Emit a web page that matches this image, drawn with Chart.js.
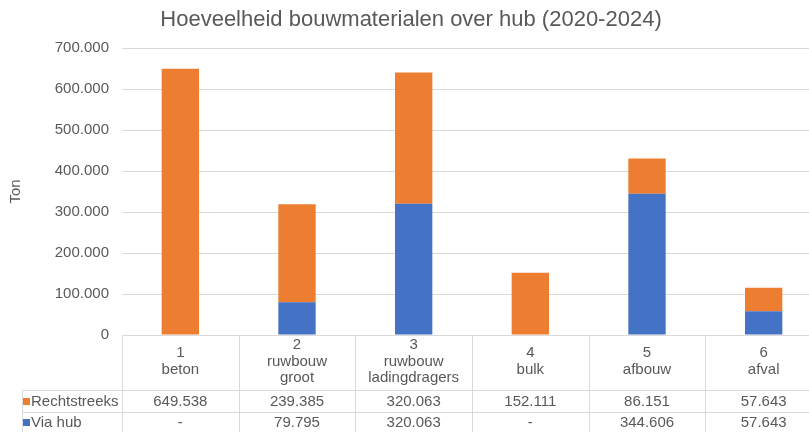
<!DOCTYPE html>
<html>
<head>
<meta charset="utf-8">
<script src="https://cdn.jsdelivr.net/npm/chart.js@4.4.1/dist/chart.umd.min.js"></script>
<style>
  html, body { margin: 0; padding: 0; background: #ffffff; overflow: hidden; width: 809px; height: 432px; }
  canvas { display: block; }
</style>
</head>
<body>
<canvas id="c" width="822" height="432"></canvas>
<script>
const titleText = "Hoeveelheid bouwmaterialen over hub (2020-2024)";
const categories = [["1", "beton"], ["2", "ruwbouw", "groot"], ["3", "ruwbouw", "ladingdragers"], ["4", "bulk"], ["5", "afbouw"], ["6", "afval"]];
const seriesNames = ["Rechtstreeks", "Via hub"];
const rechtstreeks = [649538, 239385, 320063, 152111, 86151, 57643];
const viaHub = [0, 79795, 320063, 0, 344606, 57643];
const yTicks = [0, 100000, 200000, 300000, 400000, 500000, 600000, 700000];
const yTitle = "Ton";

const ORANGE = "#ED7D31";
const BLUE = "#4472C4";
const TEXT = "#595959";
const GRID = "#d9d9d9";
const FONT = "'Liberation Sans', Arial, sans-serif";

function fmt(v) {
  if (!v) return "-";
  return String(v).replace(/\B(?=(\d{3})+(?!\d))/g, ".");
}

const tablePlugin = {
  id: "dataTable",
  afterDraw(chart) {
    const ctx = chart.ctx;
    const x = chart.scales.x;
    const area = chart.chartArea;
    const n = categories.length;
    const w = (area.right - area.left) / n;
    const top = area.bottom;
    const rowA = 390.5, rowB = 412.5, bottom = 432;
    const legLeft = 22.5;
    ctx.save();
    ctx.strokeStyle = GRID;
    ctx.lineWidth = 1;
    ctx.beginPath();
    ctx.moveTo(area.left, Math.round(top) + 0.5); ctx.lineTo(area.right, Math.round(top) + 0.5);
    ctx.moveTo(legLeft, rowA); ctx.lineTo(area.right, rowA);
    ctx.moveTo(legLeft, rowB); ctx.lineTo(area.right, rowB);
    for (let i = 0; i <= n; i++) {
      const px = Math.round(area.left + i * w) + 0.5;
      ctx.moveTo(px, top); ctx.lineTo(px, bottom);
    }
    ctx.moveTo(legLeft, rowA); ctx.lineTo(legLeft, bottom);
    ctx.stroke();

    ctx.fillStyle = TEXT;
    ctx.font = "15px " + FONT;
    ctx.textAlign = "center";
    ctx.textBaseline = "middle";
    const lh = 16.5;
    categories.forEach((lines, i) => {
      const cx = x.getPixelForValue(i);
      const cy = (top + rowA) / 2 - 1.25;
      const start = cy - (lines.length - 1) * lh / 2;
      lines.forEach((t, j) => ctx.fillText(t, cx, start + j * lh));
      ctx.fillText(fmt(rechtstreeks[i]), cx, (rowA + rowB) / 2 + 0.5);
      ctx.fillText(fmt(viaHub[i]), cx, (rowB + bottom) / 2 + 0.5);
    });
    ctx.textAlign = "left";
    const keys = [[ORANGE, seriesNames[0], (rowA + rowB) / 2], [BLUE, seriesNames[1], (rowB + bottom) / 2]];
    keys.forEach(([c, t, cy]) => {
      ctx.fillStyle = c;
      ctx.fillRect(23, Math.round(cy - 3.5), 7, 7);
      ctx.fillStyle = TEXT;
      ctx.fillText(t, 31, cy + 0.5);
    });
    ctx.restore();
  }
};

new Chart(document.getElementById("c"), {
  type: "bar",
  data: {
    labels: categories,
    datasets: [
      { label: seriesNames[1], data: viaHub, backgroundColor: BLUE, stack: "s" },
      { label: seriesNames[0], data: rechtstreeks, backgroundColor: ORANGE, stack: "s" }
    ]
  },
  options: {
    responsive: false,
    animation: false,
    layout: { padding: { left: 0, right: 0, top: 0, bottom: 0 } },
    categoryPercentage: 1,
    barPercentage: 0.32,
    plugins: {
      legend: { display: false },
      tooltip: { enabled: false },
      title: {
        display: true,
        text: titleText,
        color: TEXT,
        font: { family: FONT, size: 22, weight: "normal", lineHeight: 1.2 },
        padding: { top: 6.5, bottom: 15.1 }
      }
    },
    scales: {
      x: {
        stacked: true,
        grid: { display: false },
        border: { display: false },
        ticks: { display: false },
        afterFit(scale) { scale.height = 97; }
      },
      y: {
        stacked: true,
        min: 0,
        max: 700000,
        afterBuildTicks(scale) { scale.ticks = yTicks.map(v => ({ value: v })); },
        grid: { color: GRID, lineWidth: 1, drawTicks: false },
        border: { display: false },
        ticks: {
          color: TEXT,
          padding: 13,
          font: { family: FONT, size: 15 },
          callback: v => (v === 0 ? "0" : fmt(v))
        },
        title: {
          display: true,
          text: yTitle,
          color: TEXT,
          font: { family: FONT, size: 15 },
          padding: { top: 6.5, bottom: 0 }
        },
        afterFit(scale) { scale.width = 122; }
      }
    }
  },
  plugins: [tablePlugin]
});
</script>
</body>
</html>
